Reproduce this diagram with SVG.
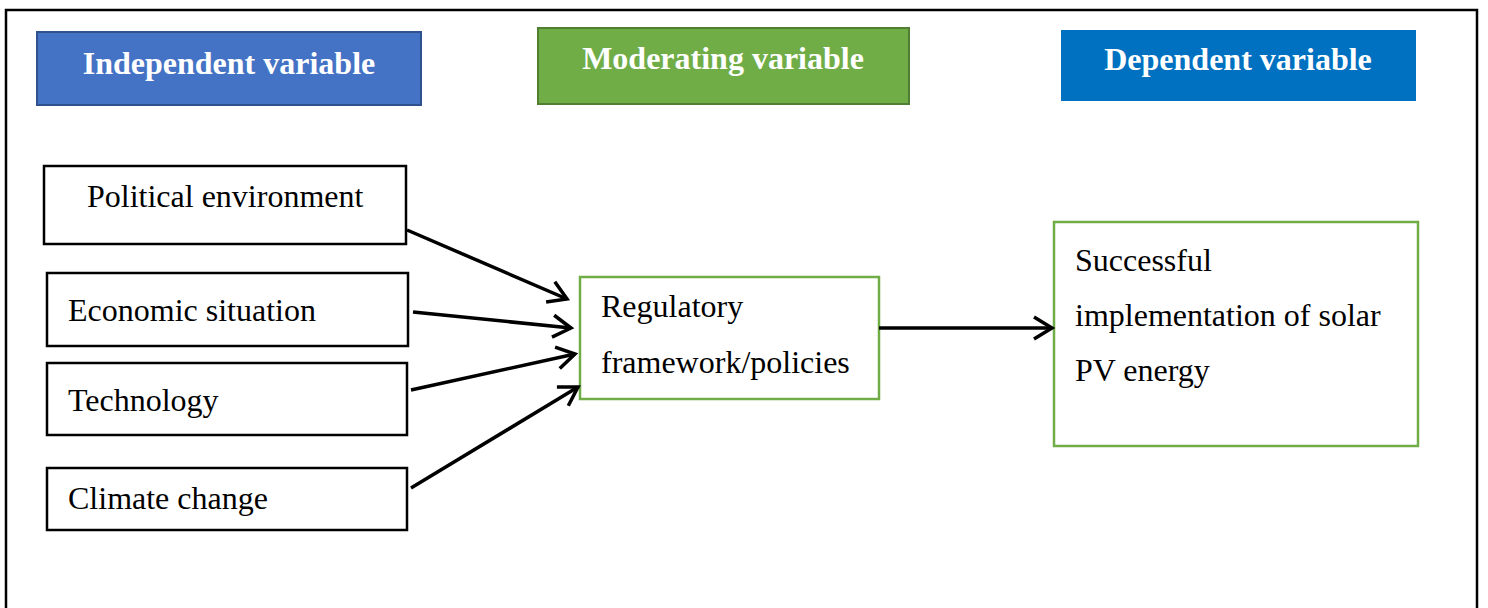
<svg xmlns="http://www.w3.org/2000/svg" width="1488" height="608" viewBox="0 0 1488 608">
<style>
.hdr{font-family:"Liberation Serif","Times New Roman",serif;font-weight:bold;font-size:32px;fill:#ffffff;text-anchor:middle}
.txt{font-family:"Liberation Serif","Times New Roman",serif;font-size:32px;fill:#000000}
.blk{fill:#ffffff;stroke:#000000;stroke-width:2.5}
.grn{fill:#ffffff;stroke:#70AD47;stroke-width:2.5}
.conn{stroke:#000000;stroke-width:3.5;fill:none;marker-end:url(#arr)}
</style>
<defs>
<marker id="arr" markerUnits="userSpaceOnUse" markerWidth="30" markerHeight="30" refX="20" refY="12" orient="auto" viewBox="0 0 30 24">
<path d="M2,1 L20,12 L2,23" fill="none" stroke="#000000" stroke-width="3.5"/>
</marker>
</defs>
<rect x="0" y="0" width="1488" height="608" fill="#ffffff"/>
<path d="M6,620 L6,10 L1477,10 L1477,620" fill="none" stroke="#000000" stroke-width="2.5"/>
<g id="independent-header">
<rect x="37" y="32" width="384" height="73" fill="#4472C4" stroke="#2F528F" stroke-width="2"/>
<text class="hdr" x="229" y="74">Independent variable</text>
</g>
<g id="moderating-header">
<rect x="538" y="28" width="371" height="76" fill="#70AD47" stroke="#507E32" stroke-width="2"/>
<text class="hdr" x="723" y="69">Moderating variable</text>
</g>
<g id="dependent-header">
<rect x="1061" y="30" width="355" height="71" fill="#0070C0"/>
<text class="hdr" x="1238" y="70">Dependent variable</text>
</g>
<g id="political">
<rect class="blk" x="44" y="166" width="362" height="78"/>
<text class="txt" x="87" y="207">Political environment</text>
</g>
<g id="economic">
<rect class="blk" x="47" y="273" width="361" height="73"/>
<text class="txt" x="68" y="321">Economic situation</text>
</g>
<g id="technology">
<rect class="blk" x="47" y="363" width="360" height="72"/>
<text class="txt" x="68" y="411">Technology</text>
</g>
<g id="climate">
<rect class="blk" x="47" y="468" width="360" height="62"/>
<text class="txt" x="68" y="509">Climate change</text>
</g>
<g id="regulatory">
<rect class="grn" x="580" y="277" width="299" height="122"/>
<text class="txt" x="601" y="317">Regulatory</text>
<text class="txt" x="601" y="373">framework/policies</text>
</g>
<g id="successful">
<rect class="grn" x="1054" y="222" width="364" height="224"/>
<text class="txt" x="1075" y="271">Successful</text>
<text class="txt" x="1075" y="326">implementation of solar</text>
<text class="txt" x="1075" y="381">PV energy</text>
</g>
<g id="connectors">
<line class="conn" x1="407" y1="230" x2="567" y2="299"/>
<line class="conn" x1="413" y1="312" x2="571" y2="328"/>
<line class="conn" x1="411" y1="390" x2="575" y2="354"/>
<line class="conn" x1="411" y1="488" x2="578" y2="387"/>
<line class="conn" x1="879" y1="328" x2="1052" y2="328"/>
</g>
</svg>
